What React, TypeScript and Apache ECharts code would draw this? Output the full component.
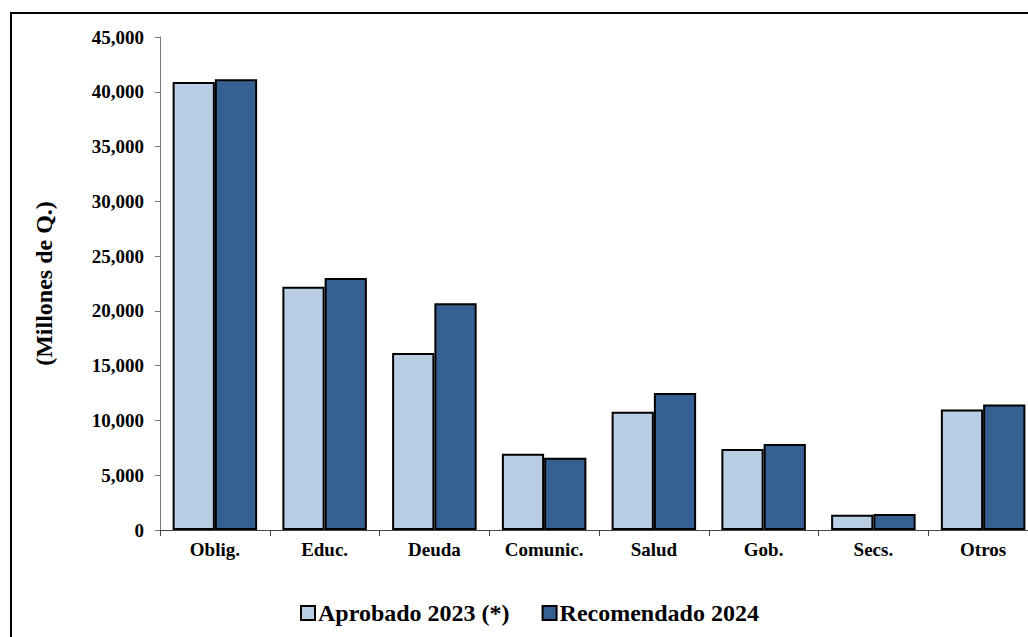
import React, { useEffect, useRef } from "react";
import * as echarts from "echarts";

const categories = ["Oblig.", "Educ.", "Deuda", "Comunic.", "Salud", "Gob.", "Secs.", "Otros"];
const aprobado2023 = [40900, 22200, 16150, 6950, 10800, 7400, 1400, 11000];
const recomendado2024 = [41150, 23000, 20700, 6600, 12500, 7850, 1450, 11450];
const seriesNames = ["Aprobado 2023 (*)", "Recomendado 2024"];
const yAxisName = "(Millones de Q.)";

const FONT = "'Liberation Serif', 'Times New Roman', serif";

export default function App() {
  const ref = useRef<HTMLDivElement>(null);
  useEffect(() => {
    document.body.style.margin = "0";
    document.body.style.overflow = "hidden";
    const chart = echarts.init(ref.current!, undefined, { renderer: "svg" });
    chart.setOption({
      animation: false,
      backgroundColor: "#ffffff",
      textStyle: { fontFamily: FONT },
      graphic: [
        {
          type: "rect",
          shape: { x: 11, y: 13, width: 1200, height: 800 },
          style: { fill: "none", stroke: "#000", lineWidth: 2 },
          silent: true,
          z: 100,
        },
      ],
      grid: { left: 160, top: 37, bottom: 107, right: 2, containLabel: false },
      legend: {
        top: 596,
        left: 295,
        itemWidth: 14,
        itemHeight: 14,
        itemGap: 32,
        icon: "rect",
        textStyle: { fontFamily: FONT, fontWeight: "bold", fontSize: 24, color: "#000", padding: [0, 0, 0, -2] },
        data: seriesNames,
      },
      xAxis: {
        type: "category",
        data: categories,
        axisLine: { lineStyle: { color: "#444", width: 1 } },
        axisTick: { show: true, length: 6, lineStyle: { color: "#444" } },
        axisLabel: { fontFamily: FONT, fontWeight: "bold", fontSize: 19, color: "#000", margin: 10 },
      },
      yAxis: {
        type: "value",
        min: 0,
        max: 45000,
        interval: 5000,
        name: yAxisName,
        nameLocation: "middle",
        nameRotate: 90,
        nameGap: 104,
        nameTextStyle: { fontFamily: FONT, fontWeight: "bold", fontSize: 24, color: "#000" },
        axisLine: { show: true, lineStyle: { color: "#777", width: 1 } },
        axisTick: { show: true, length: 5, lineStyle: { color: "#777" } },
        splitLine: { show: false },
        axisLabel: {
          fontFamily: FONT,
          fontWeight: "bold",
          fontSize: 19,
          color: "#000",
          margin: 16,
          formatter: (v: number) => v.toLocaleString("en-US"),
        },
      },
      series: [
        {
          name: seriesNames[0],
          type: "bar",
          data: aprobado2023,
          barGap: "0%",
          barCategoryGap: "23%",
          itemStyle: { color: "#B9CDE5", borderColor: "#000", borderWidth: 2 },
        },
        {
          name: seriesNames[1],
          type: "bar",
          data: recomendado2024,
          barGap: "0%",
          barCategoryGap: "23%",
          itemStyle: { color: "#376092", borderColor: "#000", borderWidth: 2 },
        },
      ],
    });
    return () => chart.dispose();
  }, []);
  return <div ref={ref} style={{ width: 1040, height: 637 }} />;
}
